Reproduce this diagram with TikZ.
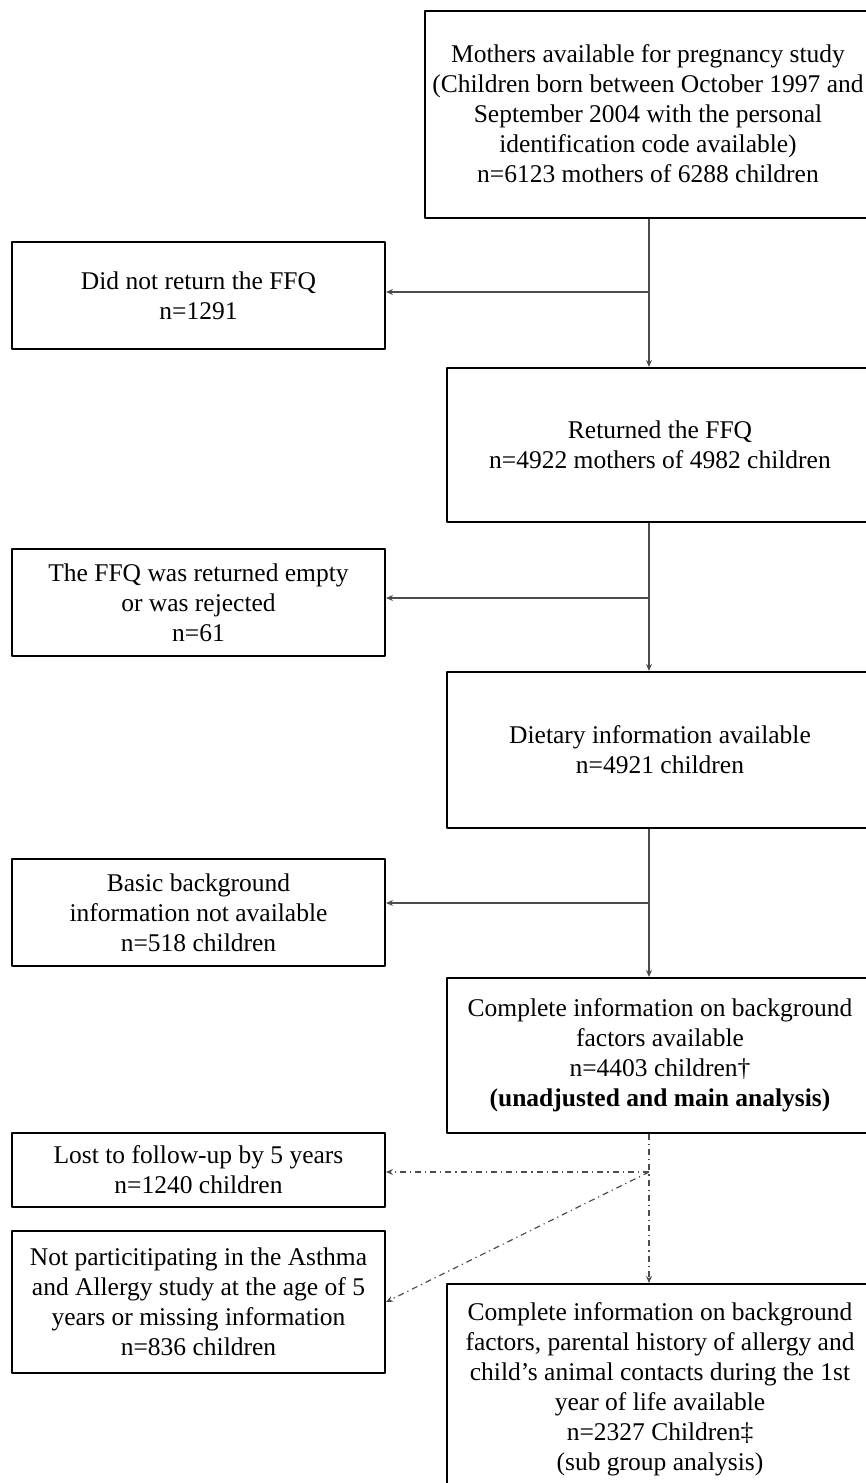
\documentclass[tikz,border=0pt]{standalone}
\usepackage{fontspec}
\setmainfont{Liberation Serif}
\usetikzlibrary{arrows.meta}
\begin{document}
\begin{tikzpicture}[font=\fontsize{12.75}{15}\selectfont, line join=round, >={Stealth[length=3.5pt,width=3pt]}, x=0.5pt, y=-0.5pt,
  mainbox/.style={draw, line width=1pt, align=center, inner sep=0pt, minimum width=213pt},
  sidebox/.style={draw, line width=1pt, align=center, inner sep=0pt, minimum width=186.5pt},
  flow/.style={->, line width=0.6pt, draw=black!70},
  lost/.style={->, line width=0.6pt, draw=black!70, dash dot}]
\def \spine{649};
\useasboundingbox (0,0) rectangle (866,1483);
\clip (0,0) rectangle (866,1483);
% main column
\node[mainbox, minimum width=223pt, minimum height=103.5pt] (mothers) at (648,114) {Mothers available for pregnancy study\\(Children born between October 1997 and\\September 2004 with the personal\\identification code available)\\n=6123 mothers of 6288 children};
\node[mainbox, minimum height=77pt] (returned) at (660,445) {Returned the FFQ\\n=4922 mothers of 4982 children};
\node[mainbox, minimum height=78pt] (dietary) at (660,750) {Dietary information available\\n=4921 children};
\node[mainbox, minimum height=77.5pt] (complete) at (660,1055.5) {Complete information on background\\factors available\\n=4403 children†\\\textbf{(unadjusted and main analysis)}};
\node[mainbox, minimum height=105pt] (subgroup) at (660,1389) {Complete information on background\\factors, parental history of allergy and\\child’s animal contacts during the 1st\\year of life available\\n=2327 Children‡\\(sub group analysis)};
% excluded
\node[sidebox, minimum height=53.5pt] (noffq) at (198.5,295.5) {Did not return the FFQ\\n=1291};
\node[sidebox, minimum height=53.5pt] (empty) at (198.5,602.5) {The FFQ was returned empty\\or was rejected\\n=61};
\node[sidebox, minimum height=53.5pt] (nobasic) at (198.5,912.5) {Basic background\\information not available\\n=518 children};
\node[sidebox, minimum height=37pt] (followup) at (198.5,1170) {Lost to follow-up by 5 years\\n=1240 children};
\node[sidebox, minimum height=71pt] (asthma) at (198.5,1302) {Not particitipating in the Asthma\\and Allergy study at the age of 5\\years or missing information\\n=836 children};
\coordinate (s1) at (\spine,292);
\coordinate (s2) at (\spine,598);
\coordinate (s3) at (\spine,903);
\coordinate (s4) at (\spine,1172);
\draw[flow] (mothers.south -| s1) -- (returned.north -| s1);
\draw[flow] (returned.south -| s2) -- (dietary.north -| s2);
\draw[flow] (dietary.south -| s3) -- (complete.north -| s3);
\draw[lost] (complete.south -| s4) -- (subgroup.north -| s4);
\draw[flow] (s1) -- (s1 -| noffq.east);
\draw[flow] (s2) -- (s2 -| empty.east);
\draw[flow] (s3) -- (s3 -| nobasic.east);
\draw[lost] (s4) -- (s4 -| followup.east);
\draw[lost] (s4) -- (asthma.east);
\end{tikzpicture}
\end{document}
